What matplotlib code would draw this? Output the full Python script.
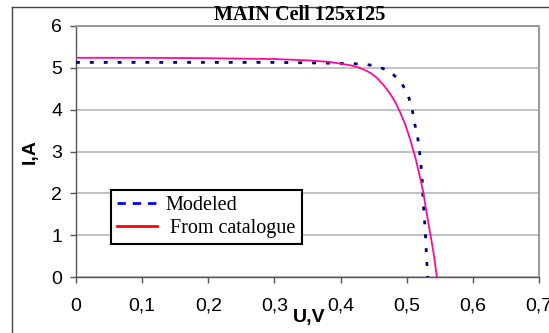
import numpy as np
import matplotlib
matplotlib.use('Agg')
import matplotlib.pyplot as plt
from matplotlib.lines import Line2D

# Modeled I-V curve (dotted navy)
u_model = [0, 0.1, 0.2, 0.3, 0.35, 0.389, 0.415, 0.432, 0.454, 0.475, 0.491,
           0.501, 0.508, 0.511, 0.516, 0.519, 0.523, 0.525, 0.528, 0.5315]
i_model = [5.13, 5.13, 5.13, 5.13, 5.12, 5.11, 5.10, 5.09, 5.05, 4.91, 4.67,
           4.39, 4.05, 3.73, 3.40, 3.06, 2.44, 1.77, 1.12, 0.0]

# Catalogue I-V curve (pink solid)
u_cat = [0.003, 0.1, 0.2, 0.3, 0.35, 0.384, 0.40, 0.415, 0.425, 0.435, 0.445,
         0.455, 0.465, 0.475, 0.483, 0.49, 0.498, 0.505, 0.513, 0.519, 0.525,
         0.530, 0.536, 0.541, 0.5456]
i_cat = [5.24, 5.24, 5.23, 5.21, 5.18, 5.14, 5.10, 5.06, 5.02, 4.96, 4.88,
         4.76, 4.59, 4.38, 4.17, 3.94, 3.64, 3.30, 2.86, 2.46, 2.03,
         1.54, 1.0, 0.54, 0.0]

x_ticks = [0, 0.1, 0.2, 0.3, 0.4, 0.5, 0.6, 0.7]
x_labels = ['0', '0,1', '0,2', '0,3', '0,4', '0,5', '0,6', '0,7']
y_ticks = [0, 1, 2, 3, 4, 5, 6]

W, H = 549, 333
fig = plt.figure(figsize=(W / 100, H / 100), dpi=100)
ax = fig.add_axes([76 / W, 56 / H, 463 / W, 251 / H])

# outer chart frame (left and top edges visible)
fig.add_artist(Line2D([12 / W, 12 / W], [0, 1 - 7 / H], transform=fig.transFigure,
                      color='#444444', lw=1.0))
fig.add_artist(Line2D([12 / W, 1], [1 - 7 / H, 1 - 7 / H], transform=fig.transFigure,
                      color='#444444', lw=1.0))

ax.plot(u_model, i_model, color='#000080', lw=2.0, linestyle=(0, (1.4, 3.6)),
        dash_capstyle='butt', zorder=3)
ax.plot(u_cat, i_cat, color='#ff0a96', lw=1.3, zorder=4)

ax.set_xlim(0, 0.7)
ax.set_ylim(0, 6)
ax.set_xticks(x_ticks)
ax.set_xticklabels(x_labels)
ax.set_yticks(y_ticks)
ax.yaxis.grid(True, color='#b8b8b8', lw=1.2)
ax.set_axisbelow(True)

for side in ['left', 'bottom']:
    ax.spines[side].set_color('#555555')
    ax.spines[side].set_linewidth(1.0)
for side in ['top', 'right']:
    ax.spines[side].set_color('#999999')
    ax.spines[side].set_linewidth(1.4)

ax.tick_params(axis='both', direction='out', length=4, width=1, color='#555555',
               labelsize=14)
ax.tick_params(axis='x', pad=11)
ax.tick_params(axis='y', pad=6)
for lab in ax.get_xticklabels() + ax.get_yticklabels():
    lab.set_fontfamily('Liberation Sans')

fig.text(309 / W, 1 - 317.5 / H, 'U,V', ha='center', va='center',
         fontsize=14, fontweight='bold', family='Liberation Sans')
fig.text(30 / W, 1 - 151 / H, 'I,A', ha='center', va='center', rotation=90,
         fontsize=14, fontweight='bold', family='Liberation Sans')
fig.text(300 / W, 1 - 15 / H, 'MAIN Cell 125x125', ha='center', va='center',
         fontsize=14.5, fontweight='bold', family='Liberation Serif')

handles = [Line2D([], [], color='#0000ff', lw=2, linestyle=(0, (3, 2.5))),
           Line2D([], [], color='#ff0000', lw=2)]
leg = ax.legend(handles, ['Modeled', ' From catalogue'], loc='upper left',
                bbox_to_anchor=((111 - 76) / 463, (277 - 190) / 251),
                borderaxespad=0, borderpad=0.3, handlelength=2.0,
                handletextpad=0.4, labelspacing=0.2, fancybox=False,
                prop={'family': 'Liberation Serif', 'size': 14.5})
leg.get_frame().set_edgecolor('black')
leg.get_frame().set_linewidth(1.5)
leg.get_frame().set_alpha(1)

fig.savefig('out.png', dpi=100)
